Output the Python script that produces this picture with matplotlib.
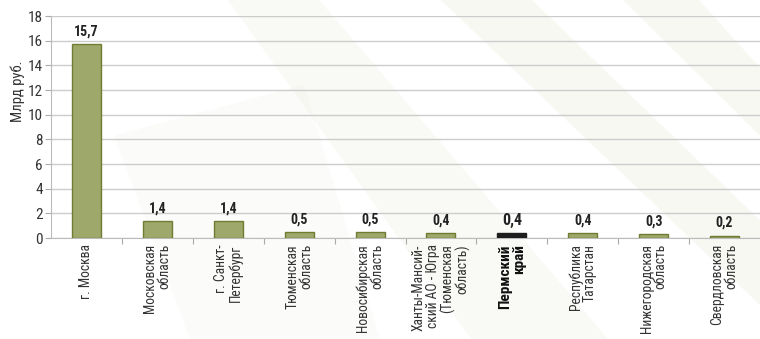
import matplotlib
matplotlib.use("Agg")
import matplotlib.pyplot as plt
from matplotlib.patches import Polygon
from matplotlib import font_manager

names = {f.name for f in font_manager.fontManager.ttflist}
narrow = [n for n in ['Liberation Sans Narrow', 'Roboto Condensed', 'Open Sans Condensed'] if n in names]
plt.rcParams['font.family'] = narrow + ['Roboto', 'DejaVu Sans']

categories = ["г. Москва", "Московская\nобласть", "г. Санкт-\nПетербург", "Тюменская\nобласть",
              "Новосибирская\nобласть", "Ханты-Мансий-\nский АО - Югра\n(Тюменская\nобласть)",
              "Пермский\nкрай", "Республика\nТатарстан", "Нижегородская\nобласть", "Свердловская\nобласть"]
values = [15.7, 1.4, 1.4, 0.5, 0.5, 0.4, 0.4, 0.4, 0.3, 0.2]
value_labels = ["15,7", "1,4", "1,4", "0,5", "0,5", "0,4", "0,4", "0,4", "0,3", "0,2"]
highlight = 6
yticks = [0, 2, 4, 6, 8, 10, 12, 14, 16, 18]

fig = plt.figure(figsize=(7.6, 3.39), dpi=100)

# decorative background streaks in a background axes
bg = fig.add_axes([0, 0, 1, 1], zorder=-1)
bg.set_xlim(0, 1)
bg.set_ylim(0, 1)
bg.axis('off')
for pts, a in [
    ([(0.30, 1.0), (0.42, 1.0), (0.80, 0.0), (0.62, 0.0)], 0.35),
    ([(0.58, 1.0), (0.70, 1.0), (1.0, 0.35), (1.0, 0.10)], 0.45),
    ([(0.82, 1.0), (0.92, 1.0), (1.0, 0.80), (1.0, 0.60)], 0.45),
    ([(0.15, 0.60), (0.40, 0.75), (0.50, 0.0), (0.25, 0.0)], 0.2),
]:
    bg.add_patch(Polygon(pts, closed=True, facecolor='#eef0e4', edgecolor='none', alpha=a))

ax = fig.add_axes([51/760, 1-238/339, 1-51/760, 222/339])
ax.patch.set_alpha(0)

x = list(range(len(values)))
colors = ['#9ea86a'] * len(values)
edges = ['#6f7d33'] * len(values)
colors[highlight] = '#1e1e1e'
edges[highlight] = '#1e1e1e'
ax.bar(x, values, width=0.41, color=colors, edgecolor=edges, linewidth=1, zorder=3)

for i, (v, lab) in enumerate(zip(values, value_labels)):
    ax.text(i, v + 0.45, lab, ha='center', va='bottom', fontsize=11.5 if i == highlight else 10,
            fontweight='bold', color='#222222', zorder=4)

ax.set_xlim(-0.5, len(values) - 0.5)
ax.set_ylim(0, 18)
ax.set_yticks(yticks)
ax.set_yticklabels([str(t) for t in yticks], fontsize=11, color='#333333')
ax.yaxis.grid(True, color='#cccccc', linewidth=1, zorder=0)
ax.set_axisbelow(True)
ax.set_ylabel("Млрд руб.", fontsize=10.5, color='#333333')
ax.yaxis.set_label_coords(-0.036, 0.66)

ax.set_xticks([i - 0.5 for i in range(1, len(values))])
ax.set_xticklabels([])
ax.tick_params(axis='x', length=4, color='#aaaaaa')
ax.tick_params(axis='y', length=4, color='#aaaaaa', pad=2)

for s in ['top', 'right']:
    ax.spines[s].set_visible(False)
for s in ['left', 'bottom']:
    ax.spines[s].set_color('#bbbbbb')

for i, c in enumerate(categories):
    bold = i == highlight
    ax.text(i, -0.5, c, rotation=90, ha='center', va='top', multialignment='right',
            fontsize=11 if bold else 9.8, fontweight='bold' if bold else 'normal',
            color='#111111' if bold else '#333333', linespacing=1.0)

fig.savefig("out.png", dpi=100)
